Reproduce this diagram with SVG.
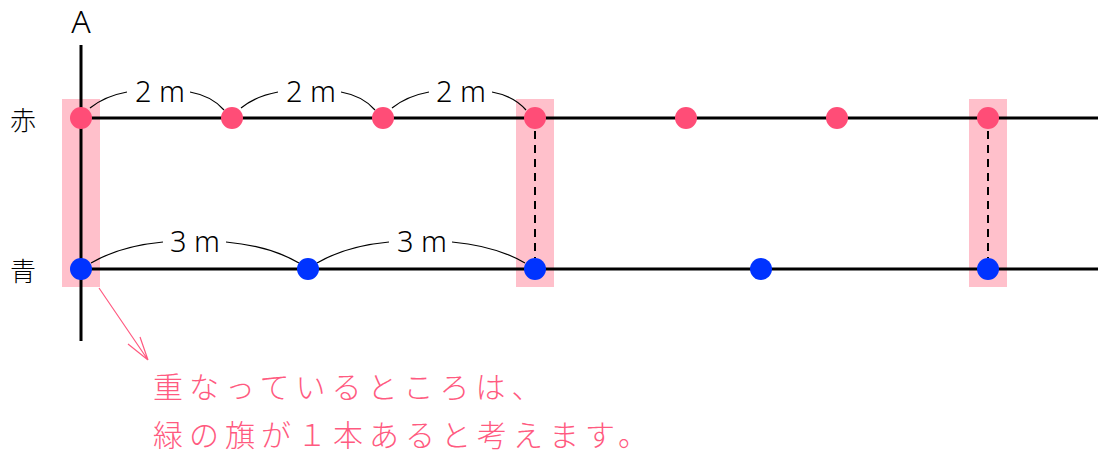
<svg xmlns="http://www.w3.org/2000/svg" width="1098" height="453" viewBox="0 0 1098 453">
<style>
.band{fill:#ffc0cb}
.axis{stroke:#000;stroke-width:3;fill:none}
.dash{stroke:#000;stroke-width:2;stroke-dasharray:8,6;fill:none}
.arc{stroke:#000;stroke-width:1.2;fill:none}
.red{fill:#ff4d77}
.blue{fill:#0033ff}
.lbl{font-family:"Noto Sans","DejaVu Sans",sans-serif;font-size:29px;font-weight:300;fill:#000;text-anchor:middle}
.big{font-size:32px}
.kanji{font-family:"Noto Sans CJK JP",sans-serif;font-size:26px;font-weight:300;fill:#000;text-anchor:middle}
.note{font-family:"Noto Sans CJK JP",sans-serif;font-size:30px;font-weight:300;fill:#ff5a80;letter-spacing:6px}
</style>
<g id="bands">
<rect class="band" x="62" y="99" width="38" height="188"/>
<rect class="band" x="516" y="99" width="38" height="188"/>
<rect class="band" x="969" y="99" width="38" height="188"/>
</g>
<g id="axes">
<line class="axis" x1="81" y1="45" x2="81" y2="341"/>
<line class="axis" x1="81" y1="118" x2="1098" y2="118"/>
<line class="axis" x1="81" y1="269" x2="1098" y2="269"/>
<text class="lbl big" x="81" y="33">A</text>
<text class="kanji" x="23" y="130">赤</text>
<text class="kanji" x="23" y="281">青</text>
</g>
<g id="connectors">
<line class="dash" x1="535" y1="131" x2="535" y2="258"/>
<line class="dash" x1="988" y1="131" x2="988" y2="258"/>
<path class="arc" d="M90,108 Q105,96 127,92"/>
<path class="arc" d="M190,92 Q212,96 224,110"/>
<path class="arc" d="M241,108 Q256,96 278,92"/>
<path class="arc" d="M341,92 Q363,96 375,110"/>
<path class="arc" d="M392,108 Q407,96 429,92"/>
<path class="arc" d="M492,92 Q514,96 526,110"/>
<path class="arc" d="M91,263 Q120,246 163,242"/>
<path class="arc" d="M226,242 Q270,246 299,263"/>
<path class="arc" d="M317,263 Q346,246 389,242"/>
<path class="arc" d="M452,242 Q496,246 525,263"/>
<path d="M99,288 L148,360 M148,360 L128,344 M148,360 L140,337" stroke="#ff5a80" stroke-width="1.2" fill="none"/>
</g>
<g id="labels">
<text class="lbl" x="160" y="102">2 m</text>
<text class="lbl" x="311" y="102">2 m</text>
<text class="lbl" x="461" y="102">2 m</text>
<text class="lbl" x="195" y="252">3 m</text>
<text class="lbl" x="422" y="252">3 m</text>
</g>
<g id="red-dots">
<circle class="red" cx="81" cy="118" r="11"/>
<circle class="red" cx="232" cy="118" r="11"/>
<circle class="red" cx="383" cy="118" r="11"/>
<circle class="red" cx="535" cy="118" r="11"/>
<circle class="red" cx="686" cy="118" r="11"/>
<circle class="red" cx="837" cy="118" r="11"/>
<circle class="red" cx="988" cy="118" r="11"/>
</g>
<g id="blue-dots">
<circle class="blue" cx="81" cy="269" r="11"/>
<circle class="blue" cx="308" cy="269" r="11"/>
<circle class="blue" cx="535" cy="269" r="11"/>
<circle class="blue" cx="761" cy="269" r="11"/>
<circle class="blue" cx="988" cy="269" r="11"/>
</g>
<g id="note">
<text class="note" x="153" y="398">重なっているところは、</text>
<text class="note" x="153" y="446">緑の旗が１本あると考えます。</text>
</g>
</svg>
